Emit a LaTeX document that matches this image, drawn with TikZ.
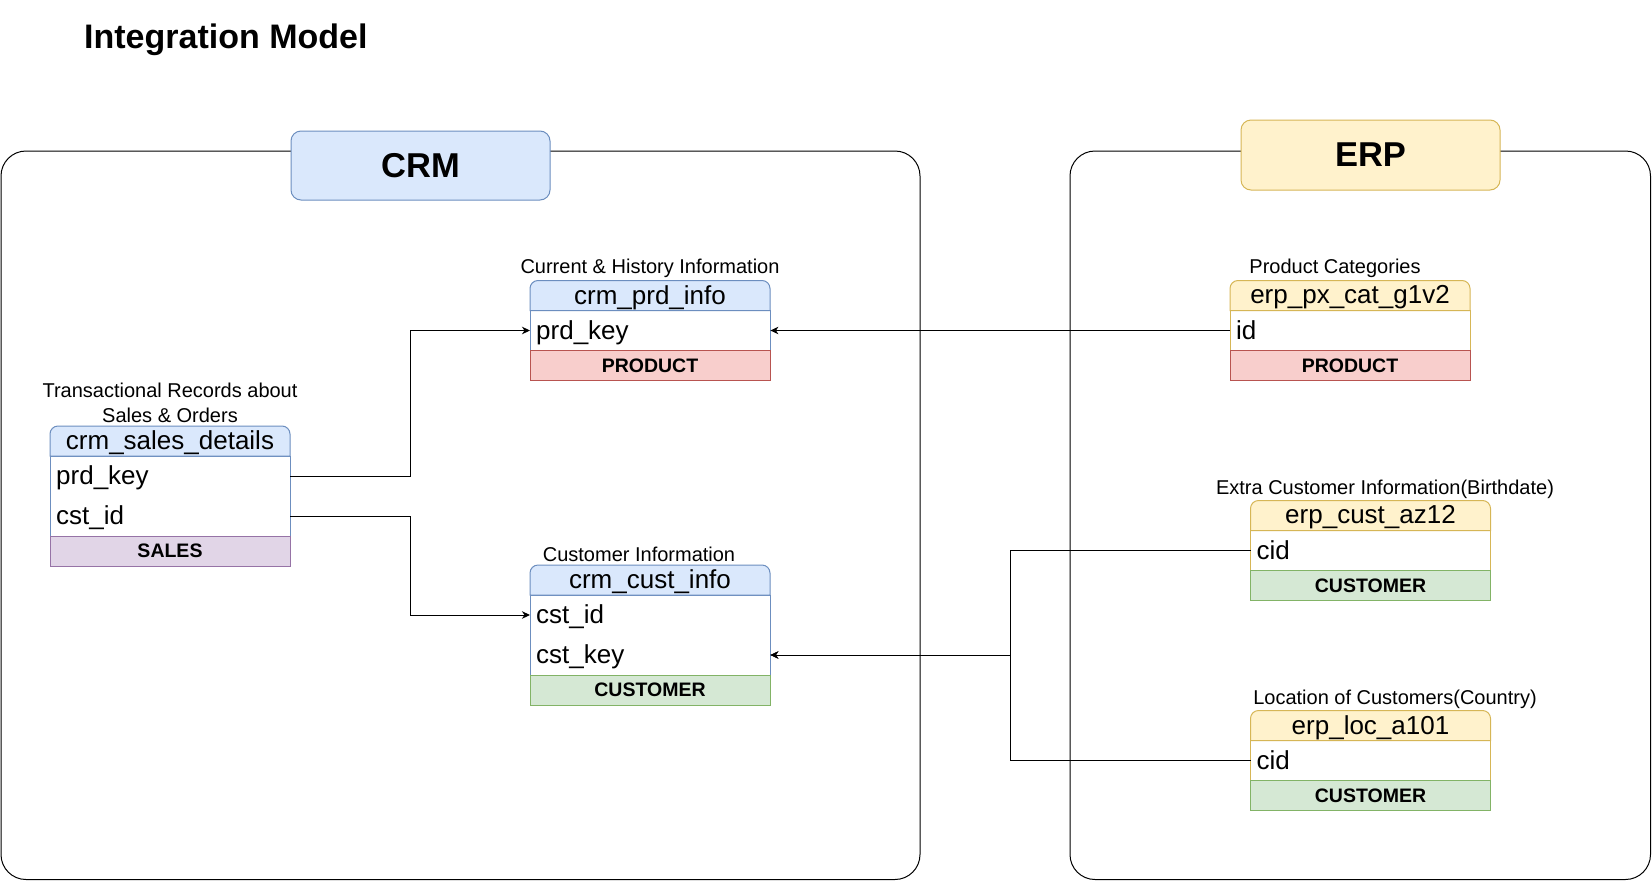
\documentclass[tikz,border=0pt]{standalone}
\usepackage{fontspec}
\setmainfont{Liberation Sans}
\usetikzlibrary{arrows.meta,calc}
\definecolor{blueF}{HTML}{DAE8FC}\definecolor{blueD}{HTML}{6C8EBF}
\definecolor{yelF}{HTML}{FFF2CC}\definecolor{yelD}{HTML}{D6B656}
\definecolor{redF}{HTML}{F8CECC}\definecolor{redD}{HTML}{B85450}
\definecolor{greF}{HTML}{D5E8D4}\definecolor{greD}{HTML}{82B366}
\definecolor{purF}{HTML}{E1D5E7}\definecolor{purD}{HTML}{9673A6}
\newcommand{\myTab}{\fontsize{26}{30}\selectfont}
\newcommand{\myLbl}{\fontsize{20}{24.5}\selectfont}
\newcommand{\myFoot}{\fontsize{19.5}{23}\selectfont\bfseries}
\newcommand{\myBig}{\fontsize{34.5}{40}\selectfont\bfseries}
% #1 x0, #2 top, #3 body height, #4 header colour, #5 footer colour
\newcommand{\tbl}[5]{%
  \draw[draw=#4D, fill=white, line width=1pt] (#1,{#2+30}) rectangle ({#1+240},{#2+30+#3});
  \filldraw[fill=#4F, draw=#4D, line width=1pt] (#1,{#2+30}) [rounded corners=8pt] -- (#1,#2) -- ({#1+240},#2) [sharp corners] -- ({#1+240},{#2+30}) -- cycle;
  \filldraw[fill=#5F, draw=#5D, line width=1pt] (#1,{#2+30+#3}) rectangle ({#1+240},{#2+60+#3});
}
\tikzset{
  hdrtext/.style={inner sep=0pt, font=\myTab, yshift=-2pt},
  rowtext/.style={anchor=west, minimum height=40pt, text width=228pt, text height=20pt, text depth=2.5pt, inner xsep=6pt, inner ysep=0pt, align=left, font=\myTab},
  foottext/.style={inner sep=0pt, font=\myFoot},
  lbl/.style={inner sep=0pt, font=\myLbl, align=center, yshift=-3pt},
  container/.style={draw=black, line width=1pt, rounded corners=25pt},
  conn/.style={draw=black, line width=1pt},
  arr/.style={conn, -{Stealth[length=8pt,width=7.5pt,inset=2.5pt]}},
}
\begin{document}
\begin{tikzpicture}[x=1pt,y=-1pt]
\useasboundingbox (0,0) rectangle (1652,881);
% title
\node[anchor=base west, inner sep=0pt, font=\fontsize{34}{40}\selectfont\bfseries] (title) at (84,48) {Integration Model};
% containers
\draw[container] (1,151) rectangle (920,879.5);
\draw[container] (1070,151) rectangle (1650.5,879.5);
\node[draw=blueD, fill=blueF, line width=1pt, rounded corners=10pt, minimum width=259pt, minimum height=69pt, font=\myBig] (crm) at (420.5,165.5) {CRM};
\node[draw=yelD, fill=yelF, line width=1pt, rounded corners=10pt, minimum width=259pt, minimum height=70pt, font=\myBig] (erp) at (1370.5,155) {ERP};
% tables
\tbl{50}{426}{80}{blue}{pur}
\tbl{530}{280.5}{40}{blue}{red}
\tbl{530}{565}{80}{blue}{gre}
\tbl{1230}{280.5}{40}{yel}{red}
\tbl{1250.5}{500.5}{40}{yel}{gre}
\tbl{1250.5}{710.5}{40}{yel}{gre}
% crm_sales_details
\node[lbl] (sdL) at (170,400) {Transactional Records about\\Sales \& Orders};
\node[hdrtext] (sd) at (170,441) {crm\_sales\_details};
\node[rowtext] (sd-prd) at (50,476) {prd\_key};
\node[rowtext] (sd-cst) at (50,516) {cst\_id};
\node[foottext] (sdF) at (170,551) {SALES};
% crm_prd_info
\node[lbl] (piL) at (650,265) {Current \& History Information};
\node[hdrtext] (pi) at (650,295.5) {crm\_prd\_info};
\node[rowtext] (pi-prd) at (530,330.5) {prd\_key};
\node[foottext] (piF) at (650,365.5) {PRODUCT};
% crm_cust_info
\node[lbl] (ciL) at (639,551.5) {Customer Information};
\node[hdrtext] (ci) at (650,580) {crm\_cust\_info};
\node[rowtext] (ci-id) at (530,615) {cst\_id};
\node[rowtext] (ci-key) at (530,655) {cst\_key};
\node[foottext] (ciF) at (650,690) {CUSTOMER};
% erp_px_cat_g1v2
\node[lbl] (pxL) at (1335,265) {Product Categories};
\node[hdrtext] (px) at (1350,295.5) {erp\_px\_cat\_g1v2};
\node[rowtext] (px-id) at (1230,330.5) {id};
\node[foottext] (pxF) at (1350,365.5) {PRODUCT};
% erp_cust_az12
\node[lbl] (azL) at (1385,486) {Extra Customer Information(Birthdate)};
\node[hdrtext] (az) at (1370.5,515.5) {erp\_cust\_az12};
\node[rowtext] (az-cid) at (1250.5,550.5) {cid};
\node[foottext] (azF) at (1370.5,585.5) {CUSTOMER};
% erp_loc_a101
\node[lbl] (locL) at (1395,696.5) {Location of Customers(Country)};
\node[hdrtext] (loc) at (1370.5,725.5) {erp\_loc\_a101};
\node[rowtext] (loc-cid) at (1250.5,760.5) {cid};
\node[foottext] (locF) at (1370.5,795.5) {CUSTOMER};
% connectors
\coordinate (bendx) at (410,0);
\coordinate (busx) at (1010,0);
\draw[arr] (sd-prd.east) -- (sd-prd.east -| bendx) |- (pi-prd.west);
\draw[arr] (sd-cst.east) -- (sd-cst.east -| bendx) |- (ci-id.west);
\draw[arr] (px-id.west) -- (pi-prd.east);
\draw[arr] (az-cid.west) -- (az-cid.west -| busx) |- (ci-key.east);
\draw[arr] (loc-cid.west) -- (loc-cid.west -| busx) |- (ci-key.east);
\end{tikzpicture}
\end{document}
